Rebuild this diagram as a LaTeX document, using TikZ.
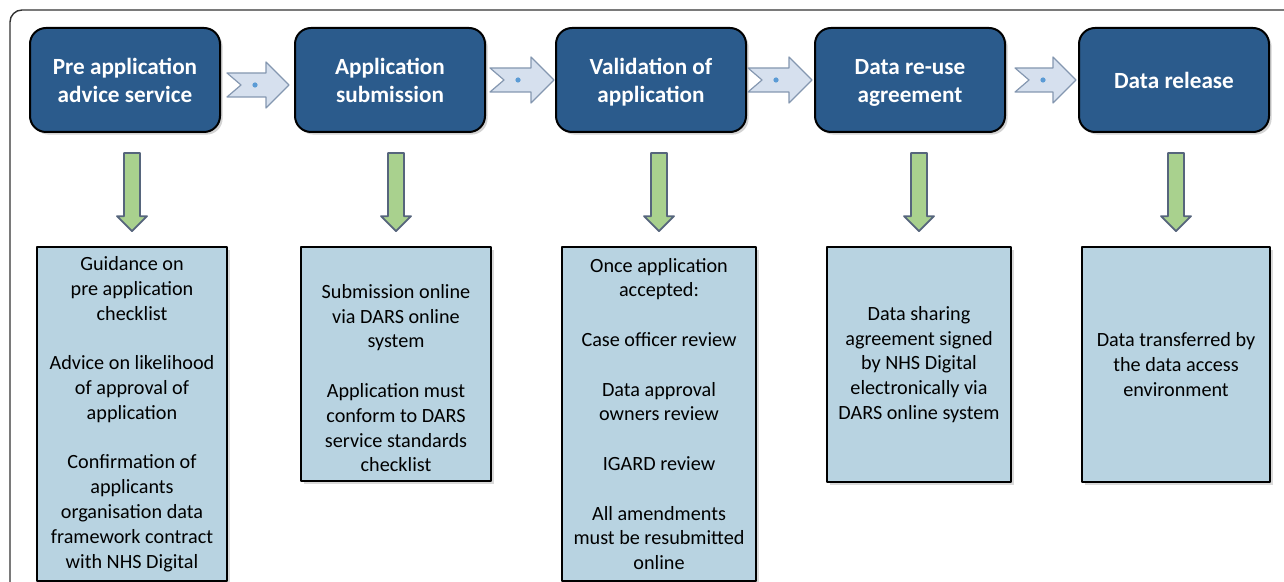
\documentclass[tikz,border=0pt]{standalone}
\usepackage{fontspec}
\setmainfont{Carlito}
\usetikzlibrary{calc,shadows}
\definecolor{stageblue}{HTML}{2B5B8C}
\definecolor{noteblue}{HTML}{B8D3E1}
\definecolor{chevfill}{HTML}{D6E0EE}
\definecolor{chevedge}{HTML}{8497B0}
\definecolor{dotblue}{HTML}{5B9BD5}
\definecolor{downfill}{HTML}{A9D18E}
\definecolor{downedge}{HTML}{56657C}
\newcommand{\stagestrut}{\rule[-2.95pt]{0pt}{14pt}}
\begin{document}
\begin{tikzpicture}[x=0.5pt,y=-0.5pt, line join=round,
	stage/.style={draw=black, line width=1pt, fill=stageblue, rounded corners=8pt,
		minimum width=95pt, minimum height=52pt, align=center, text=white,
		font=\fontsize{11.6}{14}\selectfont\bfseries,
		drop shadow={shadow xshift=1.3pt, shadow yshift=-1.3pt, opacity=0.35}},
	note/.style={draw=black, line width=0.8pt, fill=noteblue, align=center, inner sep=0pt,
		font=\fontsize{10.1}{12.4}\selectfont,
		drop shadow={shadow xshift=1.3pt, shadow yshift=-1.3pt, opacity=0.3}},
	chev/.style={draw=chevedge, fill=chevfill, line width=0.6pt,
		to path={let \p1=(\tikztostart), \p2=(\tikztotarget) in
			(\x1,\y1+6pt) -- (\x2-11.5pt,\y1+6pt) -- (\x2-11.5pt,\y1+11.5pt) -- (\x2,\y1)
			-- (\x2-11.5pt,\y1-11.5pt) -- (\x2-11.5pt,\y1-6pt) -- (\x1,\y1-6pt) -- (\x1+7pt,\y1) -- cycle}},
	downarr/.style={draw=downedge, fill=downfill, line width=0.9pt,
		to path={let \p1=(\tikztostart), \p2=(\tikztotarget) in
			(\x2-4pt,\y1) -- (\x2+4pt,\y1) -- (\x2+4pt,\y2+7.5pt) -- (\x2+7.5pt,\y2+7.5pt) -- (\x2,\y2)
			-- (\x2-7.5pt,\y2+7.5pt) -- (\x2-4pt,\y2+7.5pt) -- cycle}},
	dotmark/.style={circle, fill=dotblue, inner sep=0pt, minimum size=2.6pt}]
	\def\gap{12.4pt}
	\useasboundingbox (0,0) rectangle (1284,582);
	\clip (0,0) rectangle (1284,582);
	% outer frame
	\draw[black!80, line width=0.7pt, rounded corners=6pt] (10,10) rectangle (1330,630);
	% stages
	\foreach \n/\x/\txt in {1/125/{Pre application\\advice service}, 2/390/{Application\\submission},
		3/651/{Validation of\\application}, 4/910/{Data re-use\\agreement}, 5/1174/{Data release}}{
		\node[stage] (t\n) at (\x,80) {\stagestrut\txt\stagestrut};
	}
	% notes under the stages
	\foreach \n/\x/\y/\w/\h/\txt in {
		1/132/414/95/167/{Guidance on\\pre application\\checklist\\[\gap]Advice on likelihood\\of approval of\\application\\[\gap]Confirmation of\\applicants\\organisation data\\framework contract\\with NHS Digital},
		2/396/364/95/117/{\strut\\Submission online\\via DARS online\\system\\[\gap]Application must\\conform to DARS\\service standards\\checklist},
		3/659/414/97/167/{Once application\\accepted:\\[\gap]Case officer review\\[\gap]Data approval\\owners review\\[\gap]IGARD review\\[\gap]All amendments\\must be resubmitted\\online},
		4/919/364.5/92/117.5/{Data sharing\\agreement signed\\by NHS Digital\\electronically via\\DARS online system},
		5/1176/364.5/94/117.5/{Data transferred by\\the data access\\environment}}{
		\node[note, minimum width=\w pt, minimum height=\h pt] (b\n) at (\x,\y) {\txt};
	}
	% arrows between stages
	\foreach \a/\b/\l/\r/\s in {1/2/3/-2.5/-2.5, 2/3/2/-0.5/0, 3/4/0.5/-1/0, 4/5/4.5/-1/0}{
		\draw[chev] ([xshift=\l pt,yshift=\s pt]t\a.east) to ([xshift=\r pt,yshift=\s pt]t\b.west);
		\node[dotmark] (d\a) at ([xshift=\l pt+14pt,yshift=\s pt]t\a.east) {};
	}
	% arrows down to the notes
	\foreach \n in {1,...,5}{
		\draw[downarr] ([yshift=-10pt]t\n.south) to ([yshift=7.5pt]b\n.north);
	}
\end{tikzpicture}
\end{document}
